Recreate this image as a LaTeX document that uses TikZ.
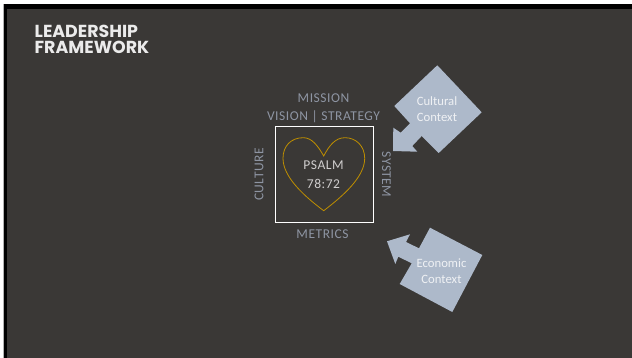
\documentclass[tikz,border=0pt]{standalone}
\usepackage{fontspec}
\setmainfont{Carlito}
\newfontfamily\titlefont{Poppins}
\newfontfamily\labelfont[LetterSpace=4]{Carlito}
\definecolor{slide}{HTML}{3A3836}
\definecolor{context}{HTML}{ADB9CA}
\definecolor{label}{HTML}{8E95A3}
\definecolor{gold}{HTML}{BF8F00}
\definecolor{psalm}{HTML}{D0CECE}
\tikzset{
  pixel/.style={x=1pt,y=-1pt},
  labeltext/.style={text=label,font=\labelfont\fontsize{13.5pt}{15pt}\selectfont,inner sep=0pt},
  contexttext/.style={text=white!80!context,font=\fontsize{12.7pt}{16pt}\selectfont,align=center,inner sep=0pt},
}
\begin{document}
\begin{tikzpicture}[pixel]
\useasboundingbox (0,0) rectangle (632,358);
\fill[white] (0,0) rectangle (632,358);
\fill[gray!60] (3,4) rectangle (632,358);
\fill[black] (4,4) rectangle (632,358);
\fill[slide] (6.5,8.7) rectangle (632,358);
\node[text=white!90!slide,font=\titlefont\bfseries\fontsize{17.4pt}{16pt}\selectfont,align=left,anchor=north west,inner sep=0pt] (title) at (34.5,24.5) {LEADERSHIP\\FRAMEWORK};
\draw[white] (274.7,126.3) rectangle (372.7,222.3);
\draw[gold,line width=.8pt] (323.7,156) .. controls (318,146) and (312,137.7) .. (303.3,137.7) .. controls (291,137.7) and (283,146) .. (283,158.3) .. controls (283,177) and (304,196) .. (323.7,210.7) .. controls (343,196) and (364.7,177) .. (364.7,158.3) .. controls (364.7,146) and (356,137.7) .. (345,137.7) .. controls (335,137.7) and (329,146) .. (323.7,156) -- cycle;
\node[text=psalm,font=\labelfont\fontsize{13.5pt}{19pt}\selectfont,align=center,inner sep=0pt] (psalm) at (323.5,174.5) {PSALM\\78:72};
\node[labeltext] (mission) at (323.5,98) {MISSION};
\node[labeltext] (vision) at (323.5,117) {VISION | STRATEGY};
\node[labeltext] (metrics) at (322.5,234.5) {METRICS};
\node[labeltext,rotate=90] (culture) at (259,174.5) {CULTURE};
\node[labeltext,rotate=-90] (system) at (386.5,174.5) {SYSTEM};
\fill[context] (437.3,65.3) -- (481.7,112.3) -- (438.7,153) -- (421.7,136) -- (412.3,146) -- (417.3,151.7) -- (393,151) -- (393.3,127.7) -- (400.7,132.7) -- (410,123.3) -- (394.3,106) -- cycle;
\node[contexttext] (cultural) at (437,109.5) {Cultural\\Context};
\fill[context] (430,227.7) -- (482.3,255) -- (452.3,312) -- (399.7,284) -- (411.7,263.3) -- (398.3,256.7) -- (395.3,264) -- (387,241.3) -- (410,234.3) -- (406,242) -- (419,248.3) -- cycle;
\node[contexttext] (economic) at (441.5,270.7) {Economic\\Context};
\end{tikzpicture}
\end{document}
